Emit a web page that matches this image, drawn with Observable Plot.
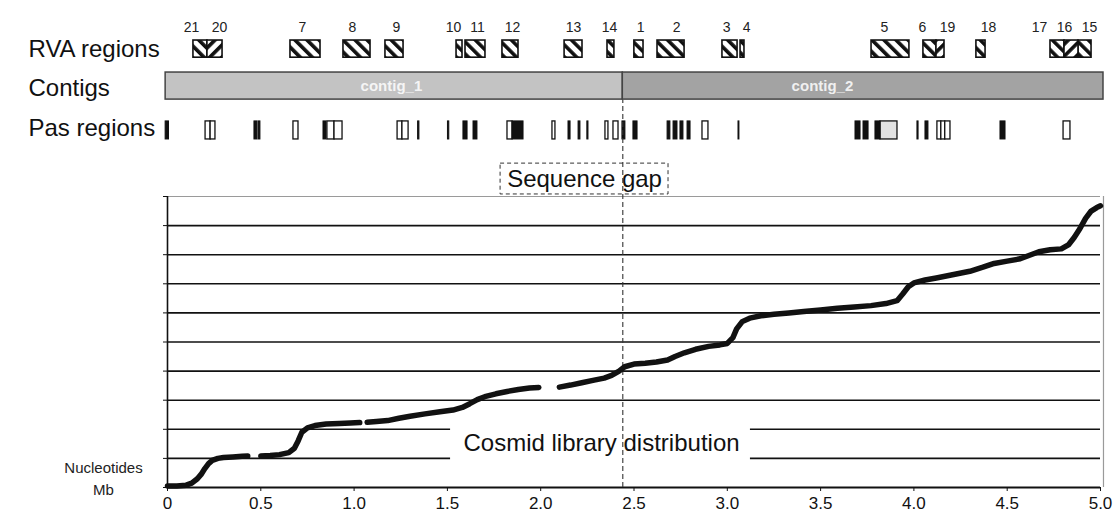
<!DOCTYPE html>
<html>
<head>
<meta charset="utf-8">
<script src="https://cdn.jsdelivr.net/npm/d3@7"></script>
<script src="https://cdn.jsdelivr.net/npm/@observablehq/plot@0.6"></script>
<style>
  html, body { margin: 0; padding: 0; background: #fff; }
  #chart svg { display: block; }
</style>
</head>
<body>
<div id="chart"></div>
<script>
// ---------- data ----------
const xTickValues = [0, 0.5, 1, 1.5, 2, 2.5, 3, 3.5, 4, 4.5, 5];
const xTickLabels = ["0", "0.5", "1.0", "1.5", "2.0", "2.5", "3.0", "3.5", "4.0", "4.5", "5.0"];
const gridLevels = [1, 2, 3, 4, 5, 6, 7, 8, 9];
const yTickValues = [0, 1, 2, 3, 4, 5, 6, 7, 8, 9, 10];

// cosmid library distribution (position Mb, cumulative level); null = gap
const cosmidX = [0.00, 0.05, 0.10, 0.13, 0.16, 0.18, 0.20, 0.22, 0.24, 0.27, 0.30, 0.35, 0.40, 0.43, null,
  0.50, 0.55, 0.60, 0.65, 0.68, 0.70, 0.72, 0.75, 0.79, 0.85, 0.92, 0.98, 1.03, null,
  1.07, 1.12, 1.18, 1.24, 1.30, 1.38, 1.46, 1.53, 1.58, 1.62, 1.66, 1.70, 1.76, 1.82, 1.88, 1.94, 1.99, null,
  2.10, 2.16, 2.22, 2.28, 2.34, 2.38, 2.42, 2.45, 2.50, 2.56, 2.62, 2.68, 2.72, 2.77, 2.83, 2.90, 2.96, 3.00,
  3.03, 3.05, 3.08, 3.12, 3.18, 3.25, 3.33, 3.41, 3.50, 3.59, 3.68, 3.77, 3.85, 3.91, 3.94, 3.97, 4.00, 4.06,
  4.12, 4.20, 4.30, 4.37, 4.43, 4.50, 4.57, 4.62, 4.67, 4.73, 4.79, 4.83, 4.86, 4.89, 4.92, 4.95, 4.98, 5.00];
const cosmidY = [0.05, 0.05, 0.08, 0.15, 0.30, 0.45, 0.65, 0.82, 0.93, 1.00, 1.03, 1.05, 1.07, 1.08, null,
  1.08, 1.10, 1.13, 1.20, 1.35, 1.60, 1.90, 2.05, 2.13, 2.18, 2.20, 2.22, 2.23, null,
  2.24, 2.27, 2.30, 2.38, 2.45, 2.53, 2.60, 2.66, 2.75, 2.88, 3.02, 3.12, 3.22, 3.30, 3.37, 3.42, 3.44, null,
  3.45, 3.52, 3.60, 3.68, 3.76, 3.85, 4.00, 4.15, 4.24, 4.27, 4.31, 4.38, 4.50, 4.63, 4.75, 4.85, 4.90, 4.95,
  5.15, 5.45, 5.70, 5.82, 5.90, 5.95, 6.00, 6.05, 6.10, 6.16, 6.20, 6.25, 6.32, 6.42, 6.65, 6.90, 7.03, 7.13,
  7.20, 7.30, 7.43, 7.57, 7.70, 7.78, 7.86, 7.98, 8.10, 8.17, 8.20, 8.35, 8.60, 8.90, 9.25, 9.50, 9.62, 9.68];

// RVA regions (Mb)
const rvaNames  = ["21", "20", "7", "8", "9", "10", "11", "12", "13", "14", "1", "2", "3", "4", "5", "6", "19", "18", "17", "16", "15"];
const rvaStart  = [0.139, 0.214, 0.659, 0.943, 1.168, 1.549, 1.597, 1.795, 2.128, 2.358, 2.502, 2.626, 2.974, 3.071, 3.773, 4.051, 4.121, 4.335, 4.732, 4.807, 4.882];
const rvaEnd    = [0.214, 0.295, 0.820, 1.088, 1.265, 1.581, 1.704, 1.881, 2.224, 2.395, 2.551, 2.771, 3.055, 3.092, 3.976, 4.121, 4.164, 4.384, 4.807, 4.882, 4.952];
const rvaStrand = ["-", "+", "-", "-", "-", "-", "-", "-", "-", "-", "-", "-", "-", "-", "-", "-", "+", "-", "-", "+", "-"];
const rvaLabelX = [0.129, 0.279, 0.723, 0.991, 1.227, 1.533, 1.661, 1.849, 2.176, 2.369, 2.535, 2.728, 2.996, 3.103, 3.842, 4.046, 4.180, 4.400, 4.673, 4.807, 4.941];

// contigs (Mb)
const contigNames  = ["contig_1", "contig_2"];
const contigStart  = [-0.01, 2.44];
const contigEnd    = [2.44, 5.016];
const contigLabelX = [1.20, 3.51];

// Pas regions (Mb)
const pasStart = [-0.01, 0.204, 0.231, 0.466, 0.488, 0.675, 0.836, 0.857, 0.895, 1.233, 1.259, 1.343,
  1.503, 1.586, 1.640, 1.822, 1.849, 2.063, 2.149, 2.203, 2.250, 2.347, 2.390, 2.438, 2.497,
  2.680, 2.712, 2.749, 2.787, 2.867, 3.060, 3.687, 3.730, 3.794, 3.821, 4.019, 4.062, 4.126, 4.147, 4.168, 4.464, 4.802];
const pasEnd   = [0.008, 0.231, 0.257, 0.482, 0.498, 0.702, 0.852, 0.895, 0.938, 1.259, 1.292, 1.350,
  1.510, 1.608, 1.661, 1.849, 1.908, 2.079, 2.160, 2.213, 2.256, 2.363, 2.417, 2.454, 2.519,
  2.695, 2.733, 2.765, 2.803, 2.899, 3.065, 3.714, 3.757, 3.821, 3.912, 4.025, 4.078, 4.147, 4.168, 4.196, 4.491, 4.839];
const pasKind  = ["filled", "open", "open", "filled", "filled", "open", "filled", "open", "open", "open", "open", "filled",
  "filled", "filled", "filled", "open", "filled", "open", "filled", "filled", "filled", "open", "open", "filled", "filled",
  "filled", "filled", "filled", "filled", "open", "filled", "filled", "filled", "filled", "shaded", "filled", "filled", "open", "open", "open", "filled", "open"];

const gapPosition = 2.44;
const trackLabels = ["RVA regions", "Contigs", "Pas regions"];

// ---------- layout (y in chart units, extrapolated above the frame) ----------
const ROW = {
  rvaText: 15.80, rvaY1: 14.77, rvaY2: 15.36,
  contigY1: 13.33, contigY2: 14.26,
  pasY1: 11.96, pasY2: 12.58,
  gapY1: 10.07, gapY2: 11.13, gapText: 10.60,
  dashTop: 13.30
};
const trackLabelY = [15.05, 13.71, 12.34];
const LEFT_X = -0.745;

const cosmid = cosmidX.map((x, i) => ({x, y: cosmidY[i]}));
const rva = rvaNames.map((name, i) => ({name, x1: rvaStart[i], x2: rvaEnd[i], strand: rvaStrand[i]}));
const rvaLabels = rvaNames.map((name, i) => ({name, x: rvaLabelX[i]}));
const contigs = contigNames.map((name, i) => ({name, x1: contigStart[i], x2: contigEnd[i], lx: contigLabelX[i], i}));
const pas = pasStart.map((s, i) => ({x1: s, x2: pasEnd[i], kind: pasKind[i]}));
const contigFill = ["#c3c3c3", "#a3a3a3"];

const FONT = "'Liberation Sans', Arial, sans-serif";

const chart = Plot.plot({
  width: 1115,
  height: 513,
  marginLeft: 167,
  marginRight: 15,
  marginTop: 196,
  marginBottom: 26,
  x: {domain: [0, 5]},
  y: {domain: [0, 10]},
  color: {type: "identity"},
  style: {fontFamily: FONT, background: "white", color: "#111"},
  marks: [
    // grid
    Plot.ruleY(gridLevels, {stroke: "#111", strokeWidth: 1.6}),
    // frame top/right
    Plot.ruleY([10], {stroke: "#9a9a9a", strokeWidth: 1.2}),
    Plot.ruleX([5.016], {y1: 0, y2: 10, stroke: "#9a9a9a", strokeWidth: 1.2}),
    // white box behind cosmid label
    Plot.rect([0], {x1: 1.517, x2: 3.124, y1: 0.62, y2: 2.3, fill: "white"}),
    Plot.text(["Cosmid library distribution"], {x: 2.326, y: 1.52, text: d => d, fontSize: 24, fill: "#111"}),
    // axes
    Plot.axisX({ticks: xTickValues, tickFormat: d => xTickLabels[xTickValues.indexOf(d)], fontSize: 17, tickSize: 4, tickPadding: 5, label: null, stroke: "#111"}),
    Plot.axisY({ticks: yTickValues, tickFormat: () => "", tickSize: 4, label: null, stroke: "#111"}),
    Plot.ruleX([0], {y1: 0, y2: 10, stroke: "#111", strokeWidth: 1.6}),
    Plot.ruleY([0], {stroke: "#111", strokeWidth: 2.2}),
    // y label
    Plot.text(["Nucleotides"], {x: -0.343, y: 0.68, text: d => d, fontSize: 15, fill: "#222"}),
    Plot.text(["Mb"], {x: -0.343, y: -0.08, text: d => d, fontSize: 15, fill: "#222"}),
    // track labels
    Plot.text(trackLabels, {x: LEFT_X, y: (d, i) => trackLabelY[i], text: d => d, textAnchor: "start", fontSize: 24, fill: "#111"}),
    // RVA regions
    Plot.rect(rva.filter(d => d.strand === "-"), {x1: "x1", x2: "x2", y1: ROW.rvaY1, y2: ROW.rvaY2, fill: "url(#hatchA)", stroke: "#111", strokeWidth: 1.6}),
    Plot.rect(rva.filter(d => d.strand === "+"), {x1: "x1", x2: "x2", y1: ROW.rvaY1, y2: ROW.rvaY2, fill: "url(#hatchB)", stroke: "#111", strokeWidth: 1.6}),
    Plot.text(rvaLabels, {x: "x", y: ROW.rvaText, text: "name", fontSize: 14, fill: "#222"}),
    // contigs
    Plot.rect(contigs, {x1: "x1", x2: "x2", y1: ROW.contigY1, y2: ROW.contigY2, fill: d => contigFill[d.i], stroke: "#444", strokeWidth: 1.5}),
    Plot.text(contigs, {x: "lx", y: (ROW.contigY1 + ROW.contigY2) / 2, text: "name", fill: "white", fontSize: 15, fontWeight: "bold", fillOpacity: 0.85}),
    // Pas regions
    Plot.rect(pas.filter(d => d.kind === "open"), {x1: "x1", x2: "x2", y1: ROW.pasY1, y2: ROW.pasY2, fill: "white", stroke: "#111", strokeWidth: 1.3}),
    Plot.rect(pas.filter(d => d.kind === "shaded"), {x1: "x1", x2: "x2", y1: ROW.pasY1, y2: ROW.pasY2, fill: "#e2e2e2", stroke: "#111", strokeWidth: 1.3}),
    Plot.rect(pas.filter(d => d.kind === "filled"), {x1: "x1", x2: "x2", y1: ROW.pasY1, y2: ROW.pasY2, fill: "#111", stroke: "#111", strokeWidth: 1}),
    // sequence gap
    Plot.rect([0], {x1: 1.785, x2: 2.685, y1: ROW.gapY1, y2: ROW.gapY2, fill: "white", stroke: "#333", strokeWidth: 1, strokeDasharray: "4,3"}),
    Plot.text(["Sequence gap"], {x: 2.235, y: ROW.gapText, text: d => d, fontSize: 24, fill: "#111"}),
    Plot.ruleX([gapPosition], {y1: 0, y2: ROW.dashTop, stroke: "#333", strokeWidth: 1.1, strokeDasharray: "5,3"}),
    // cosmid curve
    Plot.line(cosmid, {x: "x", y: "y", stroke: "#111", strokeWidth: 5.5, strokeLinejoin: "round"})
  ]
});

// hatch patterns
const svg = d3.select(chart);
const defs = svg.insert("defs", ":first-child");
function hatch(id, angle) {
  const p = defs.append("pattern")
    .attr("id", id)
    .attr("patternUnits", "userSpaceOnUse")
    .attr("width", 8.5).attr("height", 8.5)
    .attr("patternTransform", `rotate(${angle})`);
  p.append("rect").attr("width", 8.5).attr("height", 8.5).attr("fill", "white");
  p.append("rect").attr("width", 3.6).attr("height", 8.5).attr("fill", "#111");
}
hatch("hatchA", -45);
hatch("hatchB", 45);

document.getElementById("chart").appendChild(chart);
</script>
</body>
</html>
